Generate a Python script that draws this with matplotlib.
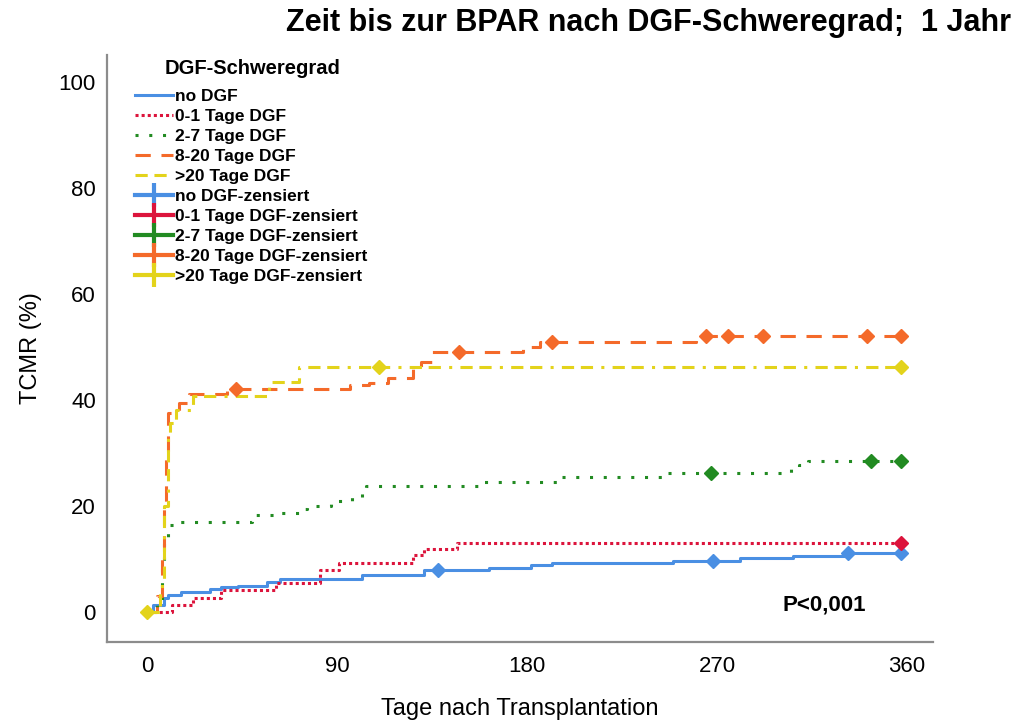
import numpy as np
import matplotlib
matplotlib.use("Agg")
import matplotlib.pyplot as plt
from matplotlib.lines import Line2D

plt.rcParams['font.family'] = ['Liberation Sans', 'DejaVu Sans']

# Kaplan-Meier Stufen (Tage, kumulative TCMR in %)
blue_t = [0, 3, 8, 10, 16, 30, 35, 43, 57, 63, 102, 131, 162, 182, 192, 249, 281, 306, 332]
blue_y = [0, 1.3, 2.6, 3.2, 3.8, 4.3, 4.7, 4.9, 5.7, 6.2, 7.0, 7.9, 8.3, 8.9, 9.3, 9.6, 10.2, 10.6, 11.1]
blue_c = [138, 268, 332, 357]

red_t = [0, 12, 22, 35, 61, 82, 91, 126, 131, 147]
red_y = [0, 1.3, 2.6, 4.1, 5.5, 7.9, 9.2, 10.8, 11.9, 13.0]
red_c = [357]

green_t = [0, 5, 7, 8, 10, 15, 50, 60, 72, 76, 87, 97, 102, 104, 159, 196, 244, 305, 309, 313]
green_y = [0, 2, 9.4, 14, 16.4, 17, 18.3, 18.7, 19.4, 20, 20.9, 21.7, 22.4, 23.8, 24.5, 25.5, 26.2, 27, 27.7, 28.5]
green_c = [267, 343, 357]

orange_t = [0, 5, 7, 8, 9, 10, 15, 20, 38, 96, 105, 114, 126, 130, 135, 178, 186, 260]
orange_y = [0, 3, 10, 20, 30, 37.5, 39.4, 41.1, 42.1, 42.8, 43.2, 44.2, 46, 47.2, 49, 50, 51, 52.1]
orange_c = [42, 148, 192, 265, 275, 292, 341, 357]

yellow_t = [0, 6, 8, 10, 11, 14, 22, 58, 72]
yellow_y = [0, 5, 20, 33, 35.7, 38.1, 40.8, 43.4, 46.2]
yellow_c = [0, 110, 357]

t_end = 357
labels = ["no DGF", "0-1 Tage DGF", "2-7 Tage DGF", "8-20 Tage DGF", ">20 Tage DGF"]
colors = ["#4a8fe3", "#dc143c", "#228b22", "#f46a2a", "#e3d31b"]
dashes = [None, (1, 1), (1, 3.5), (5, 3.5), (4, 2.2, 4, 2.7, 1, 2.7)]

series = [
    (blue_t, blue_y, blue_c),
    (red_t, red_y, red_c),
    (green_t, green_y, green_c),
    (orange_t, orange_y, orange_c),
    (yellow_t, yellow_y, yellow_c),
]

fig = plt.figure(figsize=(10.24, 7.2), dpi=100)
ax = fig.add_axes([107 / 1024, 78 / 720, (933 - 107) / 1024, (665 - 78) / 720])

for (t, y, c), col, d in zip(series, colors, dashes):
    tt = list(t) + [t_end]
    yy = list(y) + [y[-1]]
    line, = ax.step(tt, yy, where='post', color=col, lw=2.2)
    if d is not None:
        line.set_dashes(d)
    idx = np.searchsorted(t, c, side='right') - 1
    cy = np.array(y)[idx]
    ax.plot(c, cy, 'D', color=col, markersize=7, zorder=5, clip_on=False)

ax.set_xlim(-18.9, 372.3)
ax.set_ylim(-5.66, 105.1)
ax.set_xticks([0, 90, 180, 270, 360])
ax.set_yticks([0, 20, 40, 60, 80, 100])
ax.tick_params(length=0, labelsize=16, pad=8)
ax.tick_params(axis='x', pad=10)
for s in ['top', 'right']:
    ax.spines[s].set_visible(False)
for s in ['left', 'bottom']:
    ax.spines[s].set_color('#8c8c8c')
    ax.spines[s].set_linewidth(1.6)

ax.set_xlabel("Tage nach Transplantation", fontsize=17, labelpad=15)
ax.set_ylabel("TCMR (%)", fontsize=17, labelpad=12)
ax.text(321, 1.3, "P<0,001", fontsize=16, fontweight='bold', ha='center', va='center')

fig.text(0.987, 0.968, "Zeit bis zur BPAR nach DGF-Schweregrad;  1 Jahr",
         fontsize=22, fontweight='bold', ha='right', va='center')

# Legende
handles = []
for col, d in zip(colors, dashes):
    h = Line2D([0], [0], color=col, lw=2.2)
    if d is not None:
        h.set_dashes(d)
    handles.append(h)
for col in colors:
    handles.append(Line2D([0], [0], color=col, lw=3, marker='|', markersize=17,
                          markeredgewidth=3))
leg_labels = labels + [l + "-zensiert" for l in labels]
fig.text(253 / 1024, 1 - 68 / 720, "DGF-Schweregrad", fontsize=14.5,
         fontweight='bold', ha='center', va='center')
leg = fig.legend(handles, leg_labels, loc='upper left',
                 bbox_to_anchor=(135 / 1024, 1 - 89 / 720), frameon=False,
                 fontsize=12.5, handlelength=2.2,
                 handletextpad=0.1, labelspacing=0.28, borderpad=0,
                 borderaxespad=0)
for txt in leg.get_texts():
    txt.set_fontweight('bold')

fig.savefig("out.png", dpi=100)
